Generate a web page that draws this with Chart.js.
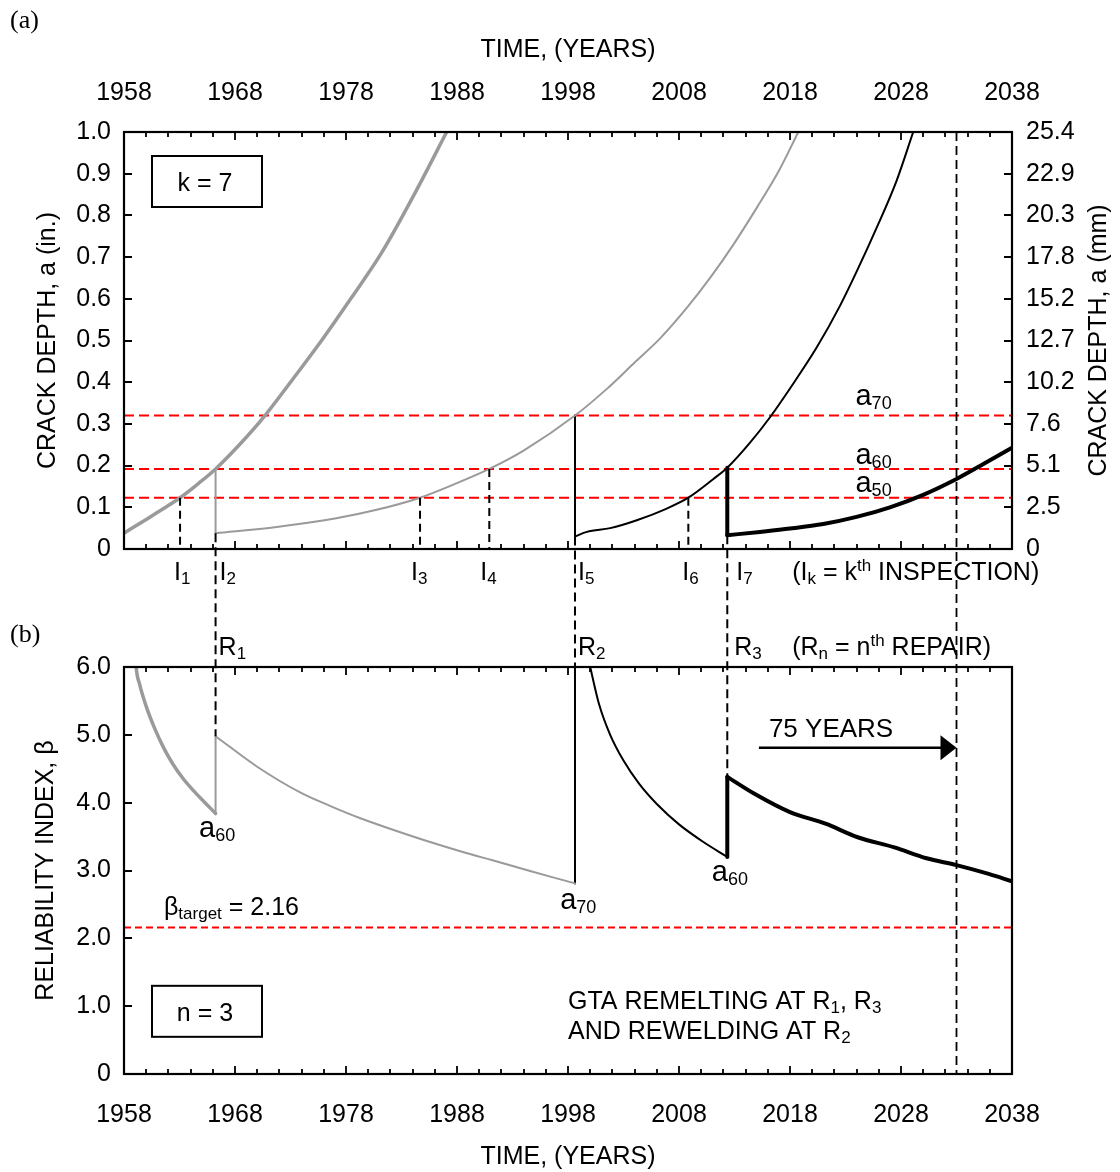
<!DOCTYPE html>
<html>
<head>
<meta charset="utf-8">
<title>Crack depth and reliability index</title>
<script src="https://cdn.jsdelivr.net/npm/chart.js@4.4.1/dist/chart.umd.min.js"></script>
<style>
  html, body { margin: 0; padding: 0; background: #ffffff; }
  #wrap { position: relative; width: 1120px; height: 1172px; }
  #wrap canvas { position: absolute; left: 0; top: 0; }
</style>
</head>
<body>
<div id="wrap">
  <canvas id="chartA" width="1120" height="1172"></canvas>
  <canvas id="chartB" width="1120" height="1172"></canvas>
</div>
<script>
// ---------------- axis ticks and labels ----------------
const yearTicks  = [1958, 1968, 1978, 1988, 1998, 2008, 2018, 2028, 2038];
const yearLabels = ['1958', '1968', '1978', '1988', '1998', '2008', '2018', '2028', '2038'];
const depthTicks    = [0, 0.1, 0.2, 0.3, 0.4, 0.5, 0.6, 0.7, 0.8, 0.9, 1.0];
const depthInLabels = ['0', '0.1', '0.2', '0.3', '0.4', '0.5', '0.6', '0.7', '0.8', '0.9', '1.0'];
const depthMmLabels = ['0', '2.5', '5.1', '7.6', '10.2', '12.7', '15.2', '17.8', '20.3', '22.9', '25.4'];
const betaTicks  = [0, 1, 2, 3, 4, 5, 6];
const betaLabels = ['0', '1.0', '2.0', '3.0', '4.0', '5.0', '6.0'];

// ---------------- (a) crack depth, a (in.) ----------------
const crack1Years = [1958, 1960.0, 1961.5, 1963.05, 1964.7, 1966.25, 1968.5, 1970.7, 1973.2, 1975.8, 1978.5, 1981.2, 1984.2, 1987.07];
const crack1Depth = [0.038, 0.071, 0.096, 0.123, 0.157, 0.192, 0.253, 0.320, 0.407, 0.500, 0.603, 0.710, 0.853, 1.0];

const crack2Years = [1966.25, 1966.25, 1971.75, 1977.0, 1980.76, 1984.67, 1988.0, 1990.91, 1994.0, 1998.63, 2001.5, 2004.0, 2006.3, 2008.7, 2010.8, 2012.9, 2015.0, 2017.0, 2018.75];
const crack2Depth = [0.192, 0.038, 0.053, 0.073, 0.094, 0.123, 0.158, 0.192, 0.236, 0.320, 0.384, 0.447, 0.505, 0.578, 0.650, 0.730, 0.818, 0.907, 1.0];

const crack3Years = [1998.63, 1998.63, 1999.7, 2001.8, 2004.2, 2006.9, 2008.84, 2011.1, 2012.35, 2014.4, 2016.2, 2018.0, 2020.4, 2022.5, 2024.0, 2025.8, 2027.6, 2029.1];
const crack3Depth = [0.320, 0.030, 0.041, 0.050, 0.069, 0.097, 0.123, 0.168, 0.195, 0.255, 0.316, 0.385, 0.483, 0.583, 0.665, 0.770, 0.883, 1.0];

const crack4Years = [2012.35, 2012.35, 2015.3, 2018.0, 2021.0, 2024.0, 2027.0, 2030.0, 2033.0, 2035.5, 2038];
const crack4Depth = [0.195, 0.033, 0.041, 0.049, 0.060, 0.077, 0.100, 0.130, 0.168, 0.205, 0.243];

// critical crack depths a70, a60, a50
const critSubs   = ['70', '60', '50'];
const critDepths = [0.320, 0.192, 0.123];

// inspections I1..I7
const inspSubs   = ['1', '2', '3', '4', '5', '6', '7'];
const inspYears  = [1963.05, 1966.25, 1984.67, 1990.91, 1998.63, 2008.84, 2012.35];
const inspDepths = [0.123, 0.192, 0.123, 0.192, 0.320, 0.123, 0.192];
const inspRepair = [false, true, false, false, true, false, true];

// repairs R1..R3
const repairSubs       = ['1', '2', '3'];
const repairYears      = [1966.25, 1998.63, 2012.35];
const repairDepthAfter = [0.038, 0.030, 0.033];
const repairBetaAfter  = [4.98, 6.0, 4.38];

// ---------------- (b) reliability index ----------------
const beta1Years = [1959.0, 1959.1, 1959.4, 1960.0, 1960.8, 1961.6, 1962.4, 1963.3, 1964.3, 1965.3, 1966.25];
const beta1Vals  = [6.3, 6.0, 5.75, 5.42, 5.08, 4.80, 4.57, 4.36, 4.17, 4.00, 3.84];

const beta2Years = [1966.25, 1966.25, 1970.0, 1974.0, 1976.6, 1979.3, 1981.7, 1985.0, 1988.6, 1991.2, 1993.8, 1996.4, 1998.63];
const beta2Vals  = [3.84, 4.98, 4.53, 4.14, 3.95, 3.77, 3.63, 3.45, 3.27, 3.15, 3.03, 2.91, 2.81];

const beta3Years = [1998.63, 1998.63, 2000.0, 2000.8, 2001.8, 2003.0, 2004.4, 2006.0, 2008.0, 2010.2, 2012.35];
const beta3Vals  = [2.81, 7.0, 6.0, 5.45, 5.0, 4.62, 4.28, 3.98, 3.68, 3.42, 3.20];

const beta4Years = [2012.35, 2012.35, 2014.8, 2018.0, 2021.2, 2024.1, 2027.4, 2030.3, 2033.0, 2035.9, 2038];
const beta4Vals  = [3.20, 4.38, 4.13, 3.86, 3.69, 3.49, 3.34, 3.18, 3.08, 2.95, 2.84];

const betaTarget = 2.16;
const serviceStart = 1958;
const serviceYears = 75;          // 75-year service life -> 2033
const serviceEnd = serviceStart + serviceYears;

// ---------------- layout / style (not data) ----------------
const X_MIN = 1958, X_MAX = 2038;
const FONT  = '"Liberation Sans", Arial, Helvetica, sans-serif';
const SERIF = '"Liberation Serif", "Times New Roman", serif';
const F = 25, FS = 17;
const inspLabelDx   = [-6, 4, -9, -9, 3, -6, 9];
const repairLabelDx = [3, 3, 7];
const GRAY = '#9a9a9a', BLACK = '#000000';

function pts(xs, ys) { return xs.map((x, i) => ({ x: x, y: ys[i] })); }

// a curve whose first two points form a vertical jump (repair) is split into
// the straight jump and a smooth monotone curve
function curve(xs, ys, color, width, jump) {
  const all = pts(xs, ys);
  const smooth = { data: jump ? all.slice(1) : all, borderColor: color, borderWidth: width, cubicInterpolationMode: 'monotone' };
  if (!jump) return [smooth];
  return [{ data: all.slice(0, 2), borderColor: color, borderWidth: width, tension: 0 }, smooth];
}

function rich(ctx, x, y, runs, align) {
  let w = 0;
  runs.forEach(r => { ctx.font = (r.s || F) + 'px ' + FONT; w += ctx.measureText(r.t).width; });
  let cx = align === 'center' ? x - w / 2 : (align === 'right' ? x - w : x);
  ctx.textAlign = 'left';
  ctx.textBaseline = 'alphabetic';
  ctx.fillStyle = '#000';
  runs.forEach(r => {
    ctx.font = (r.s || F) + 'px ' + FONT;
    ctx.fillText(r.t, cx, y + (r.dy || 0));
    cx += ctx.measureText(r.t).width;
  });
}

function dashedV(ctx, px, y1, y2, dash, w) {
  ctx.save();
  ctx.strokeStyle = '#000';
  ctx.lineWidth = w || 2;
  ctx.setLineDash(dash || [8, 5]);
  ctx.beginPath();
  ctx.moveTo(px, y1);
  ctx.lineTo(px, y2);
  ctx.stroke();
  ctx.restore();
}

function frameTicks(chart, yTicks, rightTicks) {
  const { ctx, chartArea: ca } = chart;
  const xs = chart.scales.x, ys = chart.scales.y;
  ctx.save();
  ctx.setLineDash([]);
  ctx.strokeStyle = '#000';
  ctx.lineWidth = 1.8;
  ctx.beginPath();
  for (let yr = X_MIN; yr <= X_MAX; yr += 2) {
    const px = Math.round(xs.getPixelForValue(yr));
    const len = (yr - X_MIN) % 10 === 0 ? 8 : 5;
    ctx.moveTo(px, ca.bottom); ctx.lineTo(px, ca.bottom - len);
    ctx.moveTo(px, ca.top); ctx.lineTo(px, ca.top + len);
  }
  yTicks.forEach(v => {
    const py = Math.round(ys.getPixelForValue(v));
    ctx.moveTo(ca.left, py); ctx.lineTo(ca.left + 8, py);
    if (rightTicks) { ctx.moveTo(ca.right, py); ctx.lineTo(ca.right - 8, py); }
  });
  ctx.stroke();
  ctx.lineWidth = 2.2;
  ctx.strokeRect(ca.left, ca.top, ca.right - ca.left, ca.bottom - ca.top);
  ctx.restore();
}

function box(ctx, l, t, w, h, text) {
  ctx.save();
  ctx.strokeStyle = '#000';
  ctx.lineWidth = 2;
  ctx.setLineDash([]);
  ctx.strokeRect(l, t, w, h);
  ctx.restore();
  rich(ctx, l + 53, t + 35, [{ t: text }], 'center');
}

const commonX = {
  type: 'linear', min: X_MIN, max: X_MAX,
  afterBuildTicks: s => { s.ticks = yearTicks.map(v => ({ value: v })); },
  ticks: { autoSkip: false, maxRotation: 0, minRotation: 0, color: '#000', font: { family: FONT, size: F },
           callback: (v, i) => yearLabels[i] },
  grid: { display: false, drawTicks: false },
  border: { display: false }
};

// ================= Chart (a) =================
const plugA = {
  id: 'panelA',
  beforeDatasetsDraw(chart) {
    const { ctx, chartArea: ca, scales: { y } } = chart;
    ctx.save();
    ctx.strokeStyle = '#ff0000';
    ctx.lineWidth = 2;
    ctx.setLineDash([10, 5]);
    critDepths.forEach(d => {
      const py = y.getPixelForValue(d);
      ctx.beginPath(); ctx.moveTo(ca.left, py); ctx.lineTo(ca.right, py); ctx.stroke();
    });
    ctx.restore();
  },
  afterDatasetsDraw(chart) {
    const { ctx, chartArea: ca, scales: { x, y } } = chart;
    inspYears.forEach((yr, i) => {
      if (inspRepair[i]) return;
      dashedV(ctx, x.getPixelForValue(yr), y.getPixelForValue(inspDepths[i]), ca.bottom, [8, 5], 2);
    });
    frameTicks(chart, depthTicks, true);

    // inspection labels
    inspYears.forEach((yr, i) => {
      rich(ctx, x.getPixelForValue(yr) + inspLabelDx[i], ca.bottom + 31,
        [{ t: 'I' }, { t: inspSubs[i], s: FS, dy: 4 }], 'left');
    });
    rich(ctx, x.getPixelForValue(2018.2), ca.bottom + 31,
      [{ t: '(I' }, { t: 'k', s: FS, dy: 4 }, { t: ' = k' }, { t: 'th', s: FS, dy: -9 }, { t: ' INSPECTION)' }], 'left');

    // critical depth labels
    const aBase = [0.345, 0.205, 0.137];
    critSubs.forEach((s, i) => {
      rich(ctx, x.getPixelForValue(2023.9), y.getPixelForValue(aBase[i]),
        [{ t: 'a', s: 29 }, { t: s, s: 18, dy: 4 }], 'left');
    });

    // k = 7 box
    box(ctx, ca.left + 28, ca.top + 24, 110, 51, 'k = 7');

    // right axis title (reads bottom to top)
    ctx.save();
    ctx.translate(1099, (ca.top + ca.bottom) / 2);
    ctx.rotate(-Math.PI / 2);
    ctx.font = F + 'px ' + FONT;
    ctx.fillStyle = '#000';
    ctx.textAlign = 'center';
    ctx.textBaseline = 'middle';
    ctx.fillText('CRACK DEPTH, a (mm)', 0, 0);
    ctx.restore();

    // (a)
    ctx.save();
    ctx.font = '26px ' + SERIF;
    ctx.fillStyle = '#000';
    ctx.textAlign = 'left';
    ctx.textBaseline = 'alphabetic';
    ctx.fillText('(a)', 10, 28);
    ctx.restore();
  }
};

const chartA = new Chart(document.getElementById('chartA'), {
  type: 'line',
  data: {
    datasets: [].concat(
      curve(crack1Years, crack1Depth, GRAY, 3.5, false),
      curve(crack2Years, crack2Depth, GRAY, 2, true),
      curve(crack3Years, crack3Depth, BLACK, 2, true),
      curve(crack4Years, crack4Depth, BLACK, 4, true)
    )
  },
  options: {
    responsive: false, animation: false, devicePixelRatio: 1,
    parsing: false,
    elements: { point: { radius: 0 }, line: { tension: 0, borderJoinStyle: 'round', borderCapStyle: 'round' } },
    datasets: { line: { clip: 0 } },
    layout: { padding: { left: 0, right: 0, top: 0, bottom: 623 } },
    plugins: { legend: { display: false }, tooltip: { enabled: false } },
    scales: {
      x: Object.assign({}, commonX, {
        position: 'top',
        ticks: Object.assign({}, commonX.ticks, { padding: 24 }),
        title: { display: true, text: 'TIME, (YEARS)', color: '#000', font: { family: FONT, size: F }, padding: { top: 35, bottom: 0 } },
        afterFit: s => { s.height = 132; }
      }),
      y: {
        type: 'linear', position: 'left', min: 0, max: 1,
        afterBuildTicks: s => { s.ticks = depthTicks.map(v => ({ value: v })); },
        ticks: { autoSkip: false, color: '#000', padding: 13, font: { family: FONT, size: F }, callback: (v, i) => depthInLabels[i] },
        grid: { display: false, drawTicks: false }, border: { display: false },
        title: { display: true, text: 'CRACK DEPTH, a (in.)', color: '#000', font: { family: FONT, size: F }, padding: { top: 33, bottom: 0 } },
        afterFit: s => { s.width = 124; }
      },
      y2: {
        type: 'linear', position: 'right', min: 0, max: 1,
        afterBuildTicks: s => { s.ticks = depthTicks.map(v => ({ value: v })); },
        ticks: { autoSkip: false, color: '#000', padding: 14, font: { family: FONT, size: F }, callback: (v, i) => depthMmLabels[i] },
        grid: { display: false, drawTicks: false }, border: { display: false },
        afterFit: s => { s.width = 108; }
      }
    }
  },
  plugins: [plugA]
});

// ================= Chart (b) =================
const plugB = {
  id: 'panelB',
  beforeDatasetsDraw(chart) {
    const { ctx, chartArea: ca, scales: { y } } = chart;
    ctx.save();
    ctx.strokeStyle = '#ff0000';
    ctx.lineWidth = 2;
    ctx.setLineDash([7, 4]);
    const py = y.getPixelForValue(betaTarget);
    ctx.beginPath(); ctx.moveTo(ca.left, py); ctx.lineTo(ca.right, py); ctx.stroke();
    ctx.restore();
  },
  afterDatasetsDraw(chart) {
    const { ctx, chartArea: ca, scales: { x, y } } = chart;
    const yA = chartA.scales.y;

    frameTicks(chart, betaTicks, false);

    // repair lines crossing from (a) to (b)
    repairYears.forEach((yr, i) => {
      dashedV(ctx, x.getPixelForValue(yr), yA.getPixelForValue(repairDepthAfter[i]), y.getPixelForValue(repairBetaAfter[i]), [9, 5], 2);
    });
    // 75-year line through both panels
    dashedV(ctx, x.getPixelForValue(serviceEnd), yA.getPixelForValue(1.0), y.getPixelForValue(0), [9, 5], 1.8);

    // repair labels
    repairYears.forEach((yr, i) => {
      rich(ctx, x.getPixelForValue(yr) + repairLabelDx[i], ca.top - 12,
        [{ t: 'R' }, { t: repairSubs[i], s: FS, dy: 4 }], 'left');
    });
    rich(ctx, x.getPixelForValue(2018.2), ca.top - 12,
      [{ t: '(R' }, { t: 'n', s: FS, dy: 4 }, { t: ' = n' }, { t: 'th', s: FS, dy: -9 }, { t: ' REPAIR)' }], 'left');

    // 75 years arrow
    const ay = y.getPixelForValue(4.81);
    const ax1 = x.getPixelForValue(2015.2), ax2 = x.getPixelForValue(serviceEnd);
    ctx.save();
    ctx.strokeStyle = '#000'; ctx.fillStyle = '#000'; ctx.lineWidth = 2.5; ctx.setLineDash([]);
    ctx.beginPath(); ctx.moveTo(ax1, ay); ctx.lineTo(ax2 - 14, ay); ctx.stroke();
    ctx.beginPath(); ctx.moveTo(ax2, ay); ctx.lineTo(ax2 - 16, ay - 12.5); ctx.lineTo(ax2 - 16, ay + 12.5); ctx.closePath(); ctx.fill();
    ctx.restore();
    rich(ctx, x.getPixelForValue(2016.1), y.getPixelForValue(4.97), [{ t: '75 YEARS', s: 26 }], 'left');

    // a labels at repair points
    const aLab = [[1964.76, 3.49, '60'], [1997.3, 2.43, '70'], [2010.96, 2.84, '60']];
    aLab.forEach(l => {
      rich(ctx, x.getPixelForValue(l[0]), y.getPixelForValue(l[1]), [{ t: 'a', s: 29 }, { t: l[2], s: 18, dy: 4 }], 'left');
    });

    // beta target label
    rich(ctx, x.getPixelForValue(1961.6), y.getPixelForValue(2.34),
      [{ t: 'β' }, { t: 'target', s: FS, dy: 4 }, { t: ' = 2.16' }], 'left');

    // n = 3 box
    box(ctx, ca.left + 28, y.getPixelForValue(1.3), 110, 51, 'n = 3');

    // repair method text
    rich(ctx, x.getPixelForValue(1998.0), y.getPixelForValue(0.96),
      [{ t: 'GTA REMELTING AT R' }, { t: '1', s: FS, dy: 4 }, { t: ', R' }, { t: '3', s: FS, dy: 4 }], 'left');
    rich(ctx, x.getPixelForValue(1998.0), y.getPixelForValue(0.51),
      [{ t: 'AND REWELDING AT R' }, { t: '2', s: FS, dy: 4 }], 'left');

    // (b)
    ctx.save();
    ctx.font = '26px ' + SERIF;
    ctx.fillStyle = '#000';
    ctx.textAlign = 'left';
    ctx.textBaseline = 'alphabetic';
    ctx.fillText('(b)', 10, 642);
    ctx.restore();
  }
};

const chartB = new Chart(document.getElementById('chartB'), {
  type: 'line',
  data: {
    datasets: [].concat(
      curve(beta1Years, beta1Vals, GRAY, 3.5, false),
      curve(beta2Years, beta2Vals, GRAY, 2, true),
      curve(beta3Years, beta3Vals, BLACK, 2, true),
      curve(beta4Years, beta4Vals, BLACK, 4, true)
    )
  },
  options: {
    responsive: false, animation: false, devicePixelRatio: 1,
    parsing: false,
    elements: { point: { radius: 0 }, line: { tension: 0, borderJoinStyle: 'round', borderCapStyle: 'round' } },
    datasets: { line: { clip: 0 } },
    layout: { padding: { left: 0, right: 108, top: 667, bottom: 0 } },
    plugins: { legend: { display: false }, tooltip: { enabled: false } },
    scales: {
      x: Object.assign({}, commonX, {
        position: 'bottom',
        ticks: Object.assign({}, commonX.ticks, { padding: 26 }),
        title: { display: true, text: 'TIME, (YEARS)', color: '#000', font: { family: FONT, size: F }, padding: { top: 0, bottom: 0 } },
        afterFit: s => { s.height = 98; }
      }),
      y: {
        type: 'linear', position: 'left', min: 0, max: 6,
        afterBuildTicks: s => { s.ticks = betaTicks.map(v => ({ value: v })); },
        ticks: { autoSkip: false, color: '#000', padding: 13, font: { family: FONT, size: F }, callback: (v, i) => betaLabels[i] },
        grid: { display: false, drawTicks: false }, border: { display: false },
        title: { display: true, text: 'RELIABILITY INDEX, β', color: '#000', font: { family: FONT, size: F }, padding: { top: 31, bottom: 0 } },
        afterFit: s => { s.width = 124; }
      }
    }
  },
  plugins: [plugB]
});
</script>
</body>
</html>
